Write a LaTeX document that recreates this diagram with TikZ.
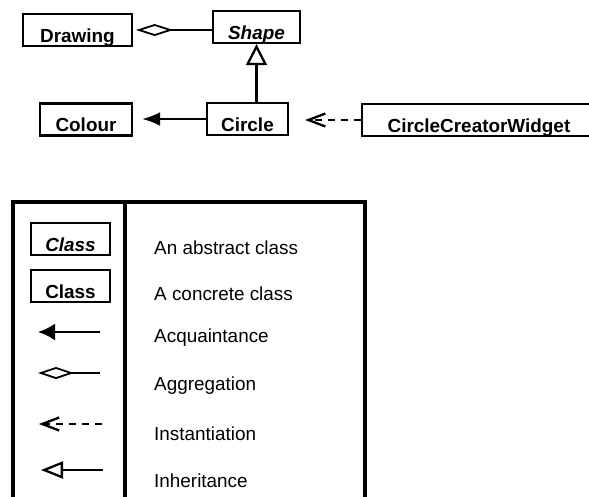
\documentclass[tikz,border=0pt]{standalone}
\usepackage{fontspec}
\setmainfont{Liberation Sans}
\usetikzlibrary{arrows.meta}
\begin{document}
\begin{tikzpicture}[x=1pt,y=-1pt,
  cls/.style={draw, line width=2.3pt, inner sep=0pt, minimum width=#1,
    text height=28pt, text depth=4pt,
    font=\fontsize{18.9}{22}\selectfont\bfseries},
  abstractcls/.style={cls=#1, font=\fontsize{18.9}{22}\selectfont\bfseries\itshape},
  legtext/.style={anchor=base west, inner sep=0pt,
    font=\fontsize{18.9}{22}\selectfont},
  conn/.style={line width=2.3pt},
  acq/.style={conn, -{Latex[length=18pt,width=14pt]}},
  aggr/.style={conn, -{Diamond[open,length=37pt,width=12pt,line width=1.8pt]}},
  inst/.style={conn, dash pattern=on 7pt off 6pt,
    -{Straight Barb[length=17pt,width=13pt,line width=2.3pt]}},
  inh/.style={conn, -{Triangle[open,length=21pt,width=21pt,line width=2.3pt]}},
]
\useasboundingbox (0,0) rectangle (589,496);
\clip (0,0) rectangle (589,496);

% class diagram
\node[cls=109pt] (drawing) at (77.5,30) {Drawing};
\node[abstractcls=87pt] (shape) at (256.5,27) {Shape};
\node[cls=81pt] (circle) at (247.5,119) {Circle};
\node[cls=92pt] (colour) at (86,119.5) {Colour};
\node[cls=234pt] (ccw) at (479,120) {CircleCreatorWidget};

\draw[aggr, shorten >=3pt] (shape.west |- drawing.east) -- (drawing.east);
\draw[inh] (shape.south |- circle.north) -- (shape.south);
\draw[acq, shorten >=9pt] (circle.west) -- (circle.west -| colour.east);
\draw[inst, shorten >=16pt] (ccw.west) -- (ccw.west -| circle.east);

% legend frame
\draw[line width=3.3pt] (13,202) rectangle (365,520);
\draw[line width=3.3pt] (125,202) -- (125,520);

\node[abstractcls=79pt] (labs) at (70.5,239) {Class};
\node[cls=79pt] (lcon) at (70.5,286) {Class};

\coordinate (acqA) at (100,332);  \coordinate (acqB) at (38,332);
\coordinate (aggA) at (100,373);  \coordinate (aggB) at (38,373);
\coordinate (insA) at (102,424);  \coordinate (insB) at (39,424);
\coordinate (inhA) at (103,470);  \coordinate (inhB) at (41,470);

\draw[conn, -{Latex[length=17pt,width=17pt]}] (acqA) -- (acqB);
\draw[conn, -{Diamond[open,length=36pt,width=12pt,line width=1.8pt]}] (aggA) -- (aggB);
\draw[inst] (insA) -- (insB);
\draw[conn, -{Triangle[open,length=22pt,width=17pt,line width=2.3pt]}] (inhA) -- (inhB);

\node[legtext] (t1) at (154,254) {An abstract class};
\node[legtext] (t2) at (154,300) {A concrete class};
\node[legtext] (t3) at (154,342) {Acquaintance};
\node[legtext] (t4) at (154,390) {Aggregation};
\node[legtext] (t5) at (154,440) {Instantiation};
\node[legtext] (t6) at (154,487) {Inheritance};
\end{tikzpicture}
\end{document}
